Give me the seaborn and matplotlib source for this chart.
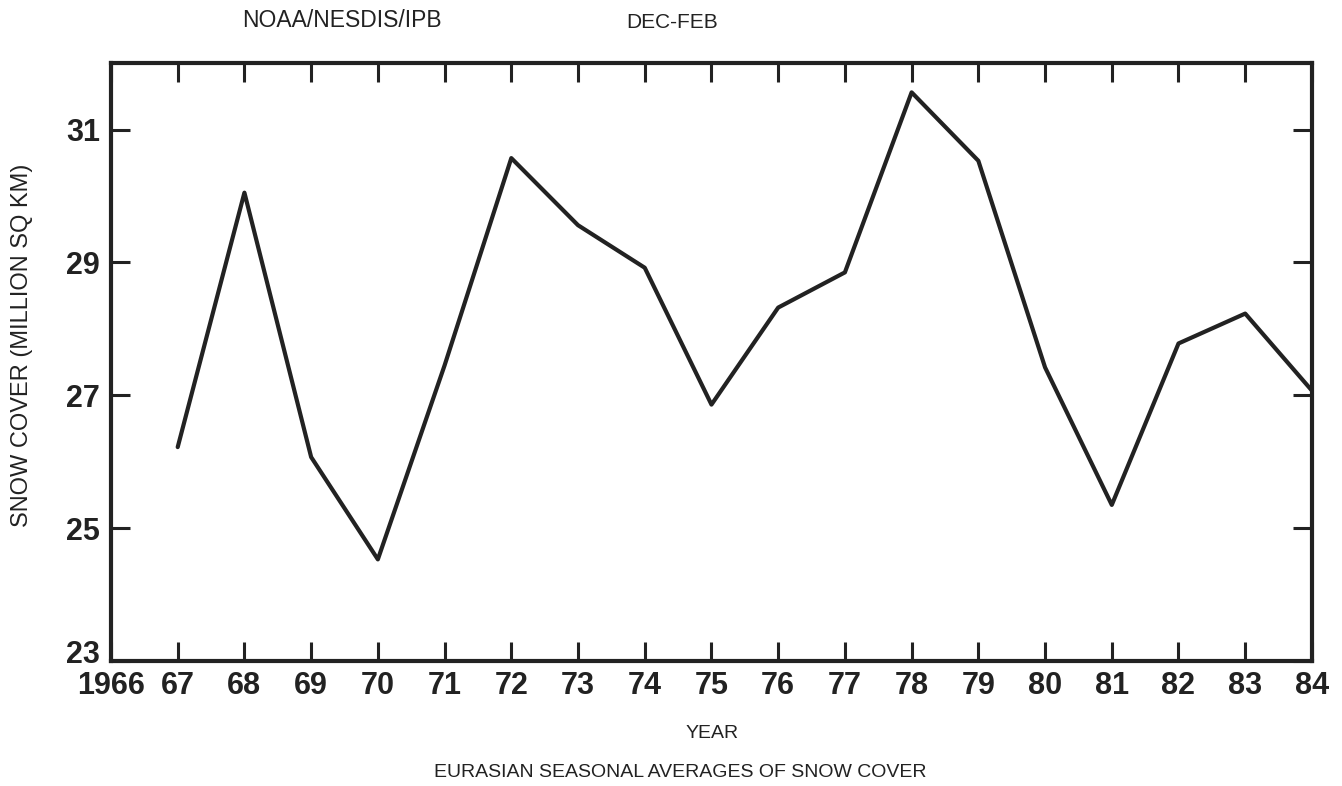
import matplotlib
matplotlib.use("Agg")
import matplotlib.pyplot as plt
import matplotlib.transforms as mtransforms
import seaborn as sns
import pandas as pd

# Eurasian Dec-Feb snow cover, million sq km
years = [1967, 1968, 1969, 1970, 1971, 1972, 1973, 1974, 1975,
         1976, 1977, 1978, 1979, 1980, 1981, 1982, 1983, 1984]
snow_cover = [26.22, 30.05, 26.07, 24.53, 27.45, 30.57, 29.56, 28.92, 26.86,
              28.32, 28.85, 31.56, 30.53, 27.42, 25.35, 27.78, 28.23, 27.07]

x_ticks = list(range(1966, 1985))
x_tick_labels = ["1966"] + [str(y % 100) for y in range(1967, 1985)]
y_ticks = [23, 25, 27, 29, 31]

df = pd.DataFrame({"year": years, "snow": snow_cover})

sns.set_style("ticks")
plt.rcParams["font.family"] = ["Liberation Sans", "DejaVu Sans"]

fig = plt.figure(figsize=(13.42, 7.86), dpi=100)
ax = fig.add_axes([0.0827, 0.159, 0.8949, 0.7607])

sns.lineplot(data=df, x="year", y="snow", ax=ax, color="#222222", linewidth=3.0)

ax.set_xlim(1966, 1984)
ax.set_ylim(23, 32)
ax.set_xticks(x_ticks)
ax.set_xticklabels(x_tick_labels)
ax.set_yticks(y_ticks)
ax.set_yticklabels([str(v) for v in y_ticks])

for s in ax.spines.values():
    s.set_visible(True)
    s.set_linewidth(3.0)
    s.set_color("#222222")

ax.tick_params(axis="both", direction="in", top=True, right=True,
               length=14, width=2.2, color="#222222",
               labelsize=22, labelcolor="#222222")
ax.tick_params(axis="x", pad=7)
ax.tick_params(axis="y", pad=8)
for lab in ax.get_xticklabels() + ax.get_yticklabels():
    lab.set_fontweight("bold")

# lift the bottom y label so it clears "1966"
bottom_lab = ax.get_yticklabels()[0]
bottom_lab.set_transform(bottom_lab.get_transform() +
                         mtransforms.ScaledTranslation(0, 10 / 100, fig.dpi_scale_trans))

ax.set_xlabel("")
ax.set_ylabel("")

fig.text(0.0164, 0.561, "SNOW COVER (MILLION SQ KM)", rotation=90,
         ha="center", va="center", fontsize=17, color="#222222")
fig.text(0.2545, 0.974, "NOAA/NESDIS/IPB", ha="center", va="center",
         fontsize=16.5, color="#222222")
fig.text(0.501, 0.972, "DEC-FEB", ha="center", va="center",
         fontsize=15, color="#222222")
fig.text(0.5305, 0.067, "YEAR", ha="center", va="center",
         fontsize=14, color="#222222")
fig.text(0.507, 0.017, "EURASIAN SEASONAL AVERAGES OF SNOW COVER",
         ha="center", va="center", fontsize=14, color="#222222")

fig.savefig("out.png", dpi=100, facecolor="white")
